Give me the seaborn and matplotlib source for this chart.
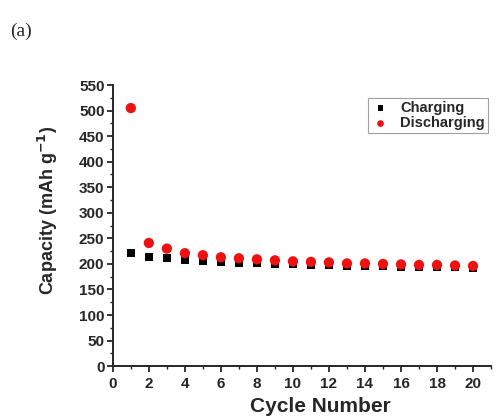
import matplotlib
matplotlib.use("Agg")
import matplotlib.pyplot as plt
import pandas as pd
import seaborn as sns
from matplotlib.ticker import MultipleLocator

# values
cycles = list(range(1, 21))
charging = [222, 214, 212, 208, 206, 204, 203, 202, 201, 200,
            199, 198, 197, 197, 196, 195, 195, 194, 194, 193]
discharging = [505, 241, 230, 221, 217, 213, 211, 209, 207, 205,
               204, 203, 201, 201, 200, 199, 198, 198, 197, 196]
x_ticks = list(range(0, 21, 2))
y_ticks = list(range(0, 551, 50))

sns.set_style("ticks")
plt.rcParams["font.family"] = ["Liberation Sans", "DejaVu Sans"]
plt.rcParams["font.weight"] = "bold"

df = pd.DataFrame({"Cycle": cycles, "Charging": charging, "Discharging": discharging})

fig = plt.figure(figsize=(4.97, 4.17), dpi=100)
ax = fig.add_axes([0.227, 0.122, 0.761, 0.674])

sns.scatterplot(data=df, x="Cycle", y="Charging", marker="s", color="black",
                s=36, edgecolor="none", label="Charging", ax=ax, zorder=3)
sns.scatterplot(data=df, x="Cycle", y="Discharging", marker="o", color="#ee1111",
                s=55, edgecolor="none", label="Discharging", ax=ax, zorder=4)

ax.set_xlim(0, 21)
ax.set_ylim(0, 550)
ax.set_xticks(x_ticks)
ax.set_xticklabels([str(v) for v in x_ticks], fontweight="bold", fontsize=11)
ax.set_yticks(y_ticks)
ax.set_yticklabels([str(v) for v in y_ticks], fontweight="bold", fontsize=11)
ax.xaxis.set_minor_locator(MultipleLocator(1))
ax.yaxis.set_minor_locator(MultipleLocator(25))
ax.tick_params(which="major", direction="out", length=4, width=1.3)
ax.tick_params(axis="x", pad=4)
ax.tick_params(axis="y", pad=2)
ax.tick_params(which="minor", direction="out", length=2.5, width=1.0)

sns.despine(ax=ax)
for sp in ["left", "bottom"]:
    ax.spines[sp].set_linewidth(1.4)

ax.set_xlabel("Cycle Number", fontsize=15, fontweight="bold")
ax.set_ylabel(r"Capacity (mAh g$^{\mathbf{-1}}$)", fontsize=13, fontweight="bold")
ax.xaxis.set_label_coords(0.548, -0.11)
ax.yaxis.set_label_coords(-0.14, 0.555)

leg = ax.legend(loc="upper left", bbox_to_anchor=(0.675, 0.954), frameon=True, fancybox=False,
                edgecolor="#888888", fontsize=10.5, handletextpad=0.7, borderpad=0.2,
                labelspacing=0.1, handlelength=1.3, borderaxespad=0, markerscale=0.65)
leg.get_frame().set_linewidth(0.8)
for t in leg.get_texts():
    t.set_fontweight("bold")

fig.text(0.02, 0.915, "(a)", family=["Liberation Serif", "DejaVu Serif"],
         fontsize=14, fontweight="normal")

fig.savefig("out.png", dpi=100)
